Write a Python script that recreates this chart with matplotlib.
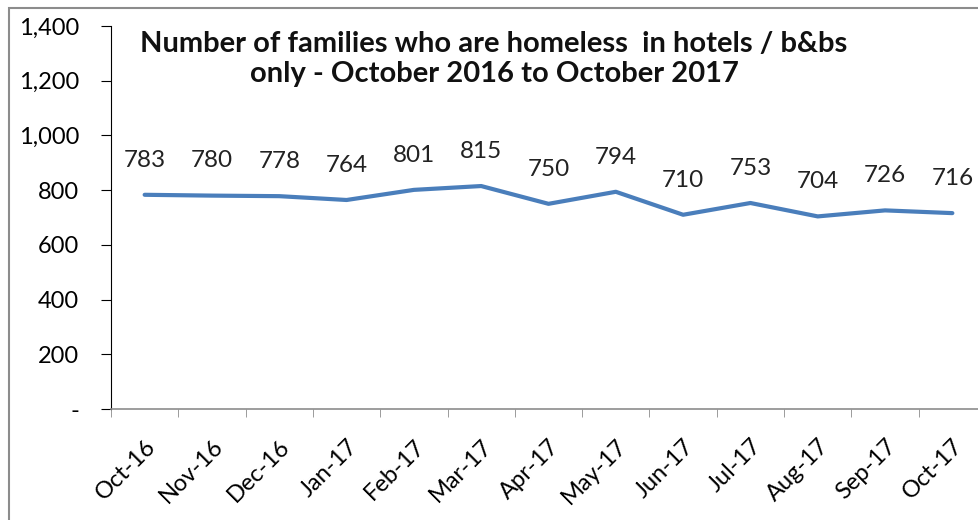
import matplotlib
matplotlib.use("Agg")
import matplotlib.pyplot as plt
from matplotlib.patches import Rectangle
from matplotlib.ticker import FuncFormatter, FixedLocator

months = ["Oct-16", "Nov-16", "Dec-16", "Jan-17", "Feb-17", "Mar-17", "Apr-17",
          "May-17", "Jun-17", "Jul-17", "Aug-17", "Sep-17", "Oct-17"]
families = [783, 780, 778, 764, 801, 815, 750, 794, 710, 753, 704, 726, 716]
title = "Number of families who are homeless  in hotels / b&bs\nonly - October 2016 to October 2017"

plt.rcParams['font.family'] = ['Lato', 'DejaVu Sans']

fig = plt.figure(figsize=(9.79, 5.2), dpi=100)
W, H = 979, 520
# outer chart border
fig.patches.append(Rectangle((9 / W, -0.1), 1.2, 1.1 - 8 / H, transform=fig.transFigure,
                             fill=False, edgecolor="#8c8c8c", linewidth=1.5))

left, right = 111 / W, 986 / W
bottom, top = 1 - 409 / H, 1 - 26 / H
ax = fig.add_axes([left, bottom, right - left, top - bottom])
ax.set_clip_on(False)

x = list(range(len(months)))
ax.plot(x, families, color="#4A7EBB", linewidth=3.0, solid_capstyle="round",
        solid_joinstyle="round", clip_on=False)
for xi, v in zip(x, families):
    ax.annotate(f"{v}", (xi, v), xytext=(0, 25), textcoords="offset points",
                ha="center", va="center", fontsize=17.5, color="#222222")

ax.set_xlim(-0.5, len(months) - 0.5)
ax.set_ylim(0, 1400)
ax.set_yticks(range(0, 1401, 200))
ax.yaxis.set_major_formatter(FuncFormatter(lambda v, p: "-" if v == 0 else f"{int(v):,}"))
ax.set_xticks(x)
ax.set_xticklabels(months, rotation=45, ha="right", rotation_mode="anchor", fontsize=17)
ax.xaxis.set_minor_locator(FixedLocator([i - 0.5 for i in range(len(months) + 1)]))
ax.tick_params(axis="x", which="major", length=0, pad=19)
ax.tick_params(axis="x", which="minor", length=6, color="#8c8c8c", direction="out")
ax.tick_params(axis="y", length=7, color="#000000", labelsize=17, pad=16)

ax.spines["top"].set_visible(False)
ax.spines["right"].set_visible(False)
ax.spines["left"].set_color("#000000")
ax.spines["bottom"].set_color("#8c8c8c")
ax.spines["bottom"].set_linewidth(1.2)

fig.text(494 / W, 1 - 31 / H, title, ha="center", va="top", fontsize=21,
         fontweight="bold", linespacing=1.2, color="#111111")

fig.savefig("out.png", dpi=100)
